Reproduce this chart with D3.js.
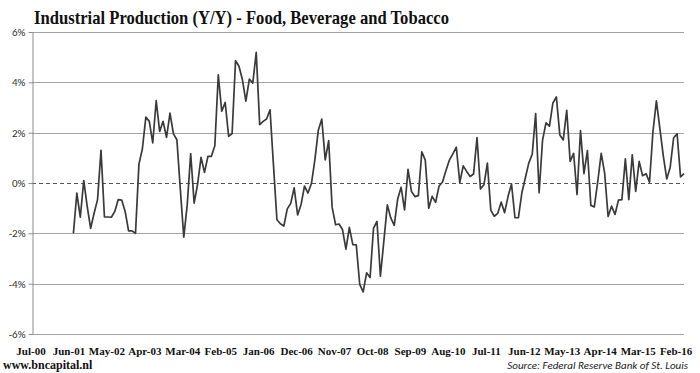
<!DOCTYPE html>
<html>
<head>
<meta charset="utf-8">
<script src="https://cdn.jsdelivr.net/npm/d3@7"></script>
<style>
  body { margin: 0; background: #fff; }
  svg { display: block; }
</style>
</head>
<body>
<div id="corpo"></div>
<script>
// categorias do eixo x (mensal)
var firstMonth = "Jul-00";
var lastMonth = "Apr-16";
var tickLabels = ["Jul-00", "Jun-01", "May-02", "Apr-03", "Mar-04", "Feb-05", "Jan-06", "Dec-06",
    "Nov-07", "Oct-08", "Sep-09", "Aug-10", "Jul-11", "Jun-12", "May-13", "Apr-14", "Mar-15", "Feb-16"];
var yTicks = [-6, -4, -2, 0, 2, 4, 6];

// serie: producao industrial Y/Y em %, comeca em Jul-01
var seriesStart = "Jul-01";
var values2001 = [-2.0, -0.4, -1.36, 0.1, -0.93, -1.8];
var values2002 = [-1.2, -0.66, 1.3, -1.35, -1.35, -1.36, -1.13, -0.66, -0.68, -1.13, -1.9, -1.9];
var values2003 = [-2.0, 0.75, 1.36, 2.62, 2.45, 1.59, 3.27, 2.05, 2.45, 1.81, 2.78, 1.95];
var values2004 = [1.72, -0.26, -2.15, -0.86, 1.17, -0.8, -0.05, 1.02, 0.42, 1.06, 1.06, 1.48];
var values2005 = [4.3, 2.85, 3.2, 1.85, 1.96, 4.86, 4.64, 4.1, 3.25, 4.13, 3.97, 5.19];
var values2006 = [2.32, 2.45, 2.54, 2.91, 0.7, -1.46, -1.62, -1.71, -1.03, -0.81, -0.19, -1.27];
var values2007 = [-0.85, -0.12, -0.4, -0.02, 0.92, 2.1, 2.54, 0.92, 1.68, -0.96, -1.66, -1.63];
var values2008 = [-1.85, -2.63, -1.76, -2.45, -2.46, -4.03, -4.33, -3.57, -3.76, -1.79, -1.53, -3.7];
var values2009 = [-2.3, -0.87, -1.39, -1.68, -0.64, -0.17, -1.07, 0.54, -0.34, -0.54, -0.5, 1.24];
var values2010 = [0.91, -1.0, -0.53, -0.77, -0.12, 0.04, 0.5, 0.91, 1.16, 1.42, 0.02, 0.68];
var values2011 = [0.46, 0.26, 0.36, 1.8, -0.24, -0.07, 0.79, -1.08, -1.32, -1.21, -0.76, -1.18];
var values2012 = [-0.53, -0.04, -1.38, -1.38, -0.39, 0.2, 0.79, 1.14, 2.76, -0.39, 1.71, 2.39];
var values2013 = [2.26, 3.18, 3.42, 1.91, 1.71, 2.89, 0.86, 1.18, -0.46, 2.08, 0.37, 1.29];
var values2014 = [-0.89, -0.95, 0.06, 1.18, 0.39, -1.33, -0.92, -1.25, -0.68, -0.66, 0.96, -0.66];
var values2015 = [1.12, -0.33, 0.86, 0.29, 0.37, 0.03, 2.04, 3.26, 2.17, 1.08, 0.16, 0.63];
var values2016 = [1.8, 1.95, 0.24, 0.37];

var values = [].concat(values2001, values2002, values2003, values2004, values2005, values2006,
    values2007, values2008, values2009, values2010, values2011, values2012, values2013,
    values2014, values2015, values2016);

var parseMonth = d3.timeParse("%b-%y");
var fmtMonth = d3.timeFormat("%b-%y");

var months = d3.timeMonth.range(parseMonth(firstMonth), d3.timeMonth.offset(parseMonth(lastMonth), 1))
    .map(fmtMonth);
var startIdx = months.indexOf(seriesStart);

var dados = values.map(function (v, i) {
    return {mes: months[startIdx + i], valor: v};
});

var width = 700, height = 373;
var plot = {left: 32, right: 684, top: 32, bottom: 334};

var svg = d3.select("#corpo").append("svg")
    .attr("width", width)
    .attr("height", height);

svg.append("rect")
    .attr("width", width)
    .attr("height", height)
    .attr("fill", "#fff");

var x = d3.scalePoint().domain(months).range([plot.left, plot.right]);
var y = d3.scaleLinear().domain([-6, 6]).range([plot.bottom, plot.top]);

// linhas de grade
svg.append("g")
    .selectAll("line")
    .data(yTicks.filter(function (d) { return d !== 0; }))
    .enter().append("line")
    .attr("x1", plot.left)
    .attr("x2", plot.right)
    .attr("y1", function (d) { return Math.round(y(d)) + 0.5; })
    .attr("y2", function (d) { return Math.round(y(d)) + 0.5; })
    .style("stroke", "#a3a3a3")
    .style("stroke-width", 1);

// linha do zero tracejada
svg.append("line")
    .attr("x1", plot.left)
    .attr("x2", plot.right)
    .attr("y1", Math.round(y(0)) + 0.5)
    .attr("y2", Math.round(y(0)) + 0.5)
    .style("stroke", "#555")
    .style("stroke-width", 1)
    .style("stroke-dasharray", "4,3");

// eixo y
var yAxis = svg.append("g")
    .attr("transform", "translate(" + (plot.left + 0.5) + ",0)")
    .call(d3.axisLeft(y).tickValues(yTicks).tickSizeInner(4).tickSizeOuter(0)
        .tickFormat(function (d) { return d + "%"; }));

yAxis.select(".domain").style("stroke", "#8c8c8c");
yAxis.selectAll(".tick line").style("stroke", "#8c8c8c");
yAxis.selectAll(".tick text")
    .attr("x", -7)
    .style("font-family", "Carlito, 'Liberation Sans', Arial, sans-serif")
    .style("font-size", "11px")
    .style("fill", "#333");

// serie
var valueline = d3.line()
    .x(function (d) { return x(d.mes); })
    .y(function (d) { return y(d.valor); });

svg.append("path")
    .data([dados])
    .attr("d", valueline)
    .style("fill", "none")
    .style("stroke", "#3a3a3a")
    .style("stroke-width", 1.7)
    .style("stroke-linejoin", "round");

// rotulos do eixo x
svg.append("g")
    .selectAll("text")
    .data(tickLabels)
    .enter().append("text")
    .attr("x", function (d) { return x(d) - 1; })
    .attr("y", 355)
    .attr("text-anchor", "middle")
    .style("font-family", "'Liberation Serif', serif")
    .style("font-weight", "bold")
    .style("font-size", "11px")
    .style("fill", "#111")
    .text(function (d) { return d; });

// titulo
svg.append("text")
    .attr("x", 34)
    .attr("y", 24)
    .attr("textLength", 415)
    .attr("lengthAdjust", "spacingAndGlyphs")
    .style("font-family", "'Liberation Serif', serif")
    .style("font-weight", "bold")
    .style("font-size", "19.5px")
    .style("fill", "#111")
    .text("Industrial Production (Y/Y) - Food, Beverage and Tobacco");

// rodape
svg.append("text")
    .attr("x", 3)
    .attr("y", 369)
    .style("font-family", "'Liberation Serif', serif")
    .style("font-weight", "bold")
    .style("font-size", "12px")
    .style("fill", "#111")
    .text("www.bncapital.nl");

svg.append("text")
    .attr("x", 688)
    .attr("y", 369)
    .attr("text-anchor", "end")
    .style("font-family", "Carlito, 'Liberation Sans', sans-serif")
    .style("font-style", "italic")
    .style("font-size", "11px")
    .style("fill", "#222")
    .text("Source: Federal Reserve Bank of St. Louis");
</script>
</body>
</html>
